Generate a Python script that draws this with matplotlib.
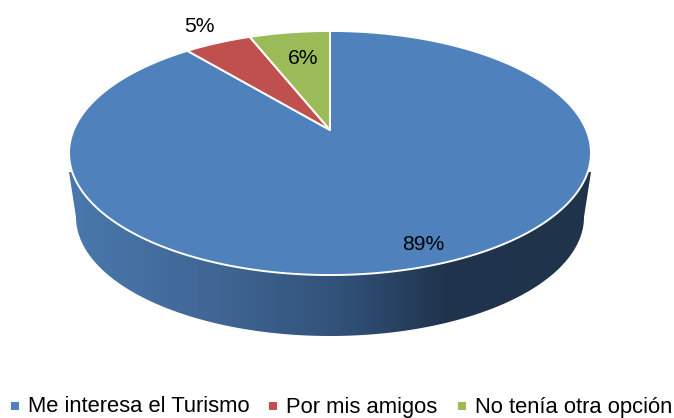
#!/usr/bin/env python3
"""Tilted 3D-looking pie: why students chose the Tourism programme."""

import numpy as np
import matplotlib
matplotlib.use('Agg')
import matplotlib.pyplot as plt
from matplotlib.colors import LinearSegmentedColormap
from matplotlib.patches import Polygon

categories = ['Me interesa el Turismo', 'Por mis amigos', 'No tenía otra opción']
shares = [89, 5, 6]
share_labels = ['89%', '5%', '6%']
colors = ['#4f81bd', '#c0504d', '#9bbb59']

plt.rcParams['font.family'] = ['Liberation Sans', 'DejaVu Sans']

# projection of the flat disc, everything in image pixels
CX, APEX_Y = 330, 130
K, A, B = 0.1885, 256.3, 117.7


def project(theta):
    """theta in radians, clockwise from 12 o'clock, on the unit circle"""
    u, v = np.sin(theta), np.cos(theta)
    w = 1 + K * v
    return CX + A * u / w, APEX_Y - B * v / w


fig = plt.figure(figsize=(6.74, 4.18), dpi=100)
ax = fig.add_axes([0, 0, 1, 1])
ax.set_xlim(0, 674)
ax.set_ylim(418, 0)
ax.axis('off')

# side wall, gradient clipped to the outline of the lower rim
t = np.linspace(np.pi / 2, 3 * np.pi / 2, 200)
side_x = 330 + 254 * np.sin(t)
side_y = 217 - 119 * np.cos(t)
outline = np.column_stack([
    np.r_[591, side_x, 69],
    np.r_[172, side_y, 172],
])
side_cmap = LinearSegmentedColormap.from_list('side', [
    (0.0, '#4a78ad'), (0.3, '#3f6593'), (0.55, '#2f4e74'),
    (0.72, '#20344d'), (1.0, '#1f334b'),
])
clip = Polygon(outline, closed=True, transform=ax.transData)
grad = ax.imshow(np.linspace(0, 1, 256)[None, :], cmap=side_cmap, aspect='auto',
                 extent=(69, 591, 340, 160), zorder=1)
ax.set_xlim(0, 674)
ax.set_ylim(418, 0)
grad.set_clip_path(clip)

# top face
start = 0.0
for share, color in zip(shares, colors):
    end = start + share / sum(shares) * 2 * np.pi
    th = np.linspace(start, end, 300)
    x, y = project(th)
    ax.fill(np.r_[CX, x], np.r_[APEX_Y, y], facecolor=color, edgecolor='white',
            linewidth=1.4, joinstyle='round', zorder=2)
    start = end

label_pos = [(423, 245), (199, 27), (303, 59)]
for text, (lx, ly) in zip(share_labels, label_pos):
    ax.text(lx, ly, text, fontsize=15.2, color='black', ha='center', va='center', zorder=3)

# legend row
legend_x = [15, 273, 462]
for name, color, lx in zip(categories, colors, legend_x):
    ax.scatter([lx], [406], marker='s', s=38, color=color, linewidths=0, zorder=3)
    ax.text(lx + 13, 407, name, fontsize=15.8, color='black', ha='left', va='center', zorder=3)

fig.savefig('out.png', dpi=100)
